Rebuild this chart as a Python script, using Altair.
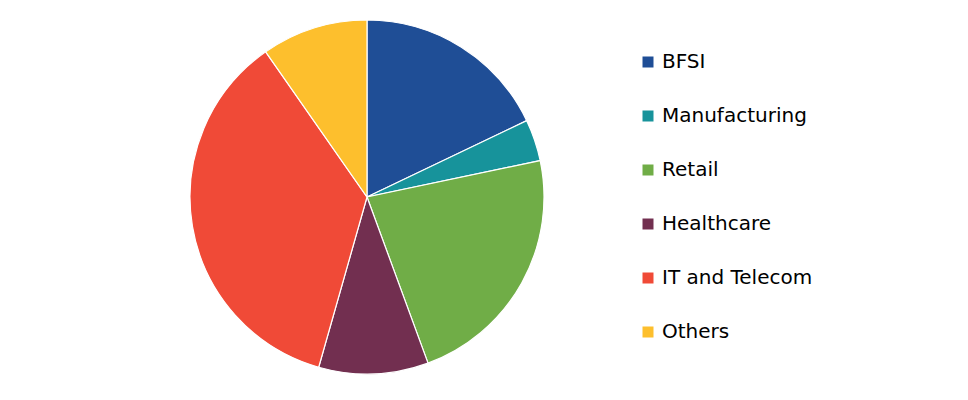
import altair as alt
import pandas as pd

categories = ["BFSI", "Manufacturing", "Retail", "Healthcare", "IT and Telecom", "Others"]
shares = [17.9, 3.8, 22.7, 10.0, 35.9, 9.7]
colors = ["#1F4E96", "#17939B", "#70AD47", "#722F50", "#F04A37", "#FDBF2D"]

df = pd.DataFrame({"Segment": categories, "Share": shares, "idx": list(range(len(categories)))})

chart = alt.Chart(df).mark_arc(outerRadius=177, stroke="white", strokeWidth=1.2).encode(
    theta=alt.Theta("Share:Q", stack=True),
    order=alt.Order("idx:Q"),
    color=alt.Color(
        "Segment:N",
        scale=alt.Scale(domain=categories, range=colors),
        sort=categories,
        legend=alt.Legend(
            title=None,
            orient="none",
            legendX=630,
            legendY=44,
            symbolType="square",
            symbolSize=121,
            symbolStrokeWidth=0,
            labelFont="DejaVu Sans",
            labelFontSize=20,
            labelColor="#000000",
            labelOffset=4,
            rowPadding=34,
            labelLimit=400,
        ),
    ),
).properties(
    width=718, height=378, padding=0
).configure_view(stroke=None)

chart.save("out.html", embed_options={"renderer": "svg", "actions": False})
